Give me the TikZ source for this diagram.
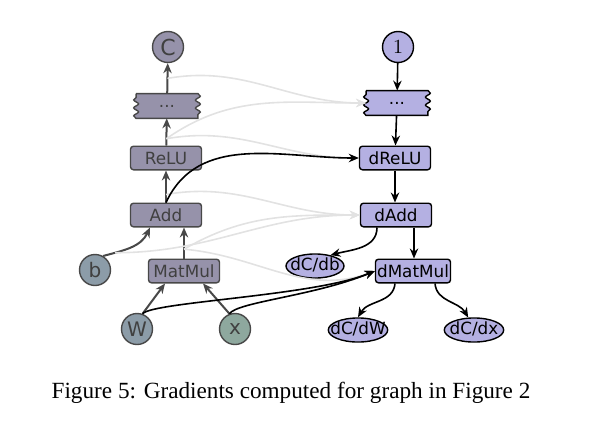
\documentclass[tikz,border=0pt]{standalone}
\usepackage{fontspec}
\setmainfont{Liberation Serif}
\newfontfamily\labelfont{DejaVu Sans}
\usetikzlibrary{shapes.geometric,arrows.meta,positioning,
                decorations.pathmorphing,backgrounds}
\definecolor{opfill}{RGB}{150,146,170}
\definecolor{varfill}{RGB}{140,156,168}
\definecolor{infill}{RGB}{142,168,158}
\definecolor{gradfill}{RGB}{180,176,226}
\definecolor{fwdline}{RGB}{72,72,72}
\definecolor{fwdtext}{RGB}{64,64,64}
\definecolor{tapline}{RGB}{226,226,226}
\tikzset{
  opbox/.style   = {rectangle, draw=#1, rounded corners=1.5pt,
                    line width=0.7pt, minimum width=35.5pt,
                    minimum height=11.8pt, inner sep=0.8pt,
                    font=\labelfont\fontsize{8.4}{9}\selectfont},
  fwdbox/.style  = {opbox=fwdline, fill=opfill, text=fwdtext},
  gradbox/.style = {opbox=black, fill=gradfill},
  tensor/.style  = {circle, draw=fwdline, fill=#1, line width=0.7pt,
                    minimum size=15.5pt, inner sep=0pt, text=fwdtext,
                    font=\labelfont\fontsize{10}{12}\selectfont},
  tensor/.default= varfill,
  gradout/.style = {ellipse, draw=black, fill=gradfill, line width=0.7pt,
                    inner sep=0pt, text height=6.5pt, text depth=2pt,
                    font=\labelfont\fontsize{8.4}{10}\selectfont},
  tapebox/.style = {minimum width=30.5pt, minimum height=12pt,
                    inner sep=0pt,
                    font=\labelfont\fontsize{8.4}{9}\selectfont},
  fwdarrow/.style= {-{Stealth[length=5pt,width=4.2pt]}, line width=1pt,
                    fwdline},
  bwdarrow/.style= {-{Stealth[length=5pt,width=4.2pt]}, line width=0.8pt,
                    black},
  taparrow/.style= {-{Stealth[length=5pt,width=4.2pt]}, line width=0.8pt,
                    tapline},
}
% wavy left and right sides of a "..." node
\newcommand{\wavyoutline}[3]{%
  \filldraw[draw=#2, fill=#3, line width=0.7pt,
            decoration={snake, amplitude=1.2pt, segment length=4pt}]
    (#1.north west) -- (#1.north east)
    decorate {-- (#1.south east)} -- (#1.south west)
    decorate {-- (#1.north west)} -- cycle;
}

\begin{document}
\begin{tikzpicture}[x=0.5pt, y=-0.5pt]
  \useasboundingbox (0,0) rectangle (603,428);

  %% ---- Forward graph ----
  \node[tensor=opfill, font=\labelfont\fontsize{11}{12}\selectfont]
        (C)      at (168,47)  {C};
  \node[tapebox, text=fwdtext]
        (ftape)  at (167,106) {...};
  \node[fwdbox]  (relu)   at (166,158) {ReLU};
  \node[fwdbox]  (add)    at (166,215) {Add};
  \node[tensor]  (b)      at (95,270)  {b};
  \node[fwdbox]  (matmul) at (184,271) {MatMul};
  \node[tensor]  (W)      at (137,329) {W};
  \node[tensor=infill] (x) at (235,329) {x};

  %% ---- Gradient graph ----
  \node[tensor=gradfill, draw=black, text=black]
        (one)    at (398,47)  {$1$};
  \node[tapebox] (btape)  at (397,103) {...};
  \node[gradbox] (drelu)  at (395,158) {dReLU};
  \node[gradbox] (dadd)   at (396,215) {dAdd};
  \node[gradout] (dCdb)   at (315,266) {\makebox[20.5pt]{dC/db}};
  \node[gradbox] (dmatmul) at (413,271) {dMatMul};
  \node[gradout] (dCdW)   at (358,330) {\makebox[21pt]{dC/dW}};
  \node[gradout] (dCdx)   at (474,330) {\makebox[21pt]{dC/dx}};

  \node[font=\fontsize{11.6}{13}\selectfont]
        (caption) at (291,393) {Figure 5: Gradients computed for graph in Figure 2};

  \begin{scope}[on background layer]
    \wavyoutline{ftape}{fwdline}{opfill}
    \wavyoutline{btape}{black}{gradfill}
  \end{scope}

  %% ---- Forward edges ----
  \draw[fwdarrow] (ftape) -- coordinate[pos=0.5] (tapC) (C);
  \draw[fwdarrow] (relu) -- coordinate[pos=0.25] (tapR) (ftape);
  \draw[fwdarrow] (add) -- coordinate[pos=0.25] (tapA) (relu);
  \draw[fwdarrow] (matmul.north) -- coordinate[pos=0.3] (tapM)
        (matmul.north |- add.south);
  \draw[fwdarrow] (b.60) to[out=15, in=-115] coordinate[pos=0.2] (tapB)
        ([xshift=-8pt]add.south);
  \draw[fwdarrow] (W.70) -- ([xshift=-9.5pt]matmul.south);
  \draw[fwdarrow] (x.110) -- ([xshift=9.5pt]matmul.south);

  %% ---- Forward values used by gradients (light) ----
  \draw[taparrow] (tapC) to[out=10, in=180] (btape.west);
  \draw[taparrow] (tapR) to[out=35, in=180] (btape.west);
  \draw[taparrow] (tapR) to[out=10, in=180] (drelu.west);
  \draw[taparrow] (tapA) to[out=10, in=180] (dadd.west);
  \draw[taparrow] (tapM) to[out=30, in=180] (dadd.west);
  \draw[taparrow] (tapB) to[out=0, in=180] (dadd.west);
  \draw[taparrow] (tapM) to[out=-5, in=200] (dmatmul.west);

  %% ---- Gradient edges ----
  \draw[bwdarrow] (one) -- (btape);
  \draw[bwdarrow] (btape) -- (drelu);
  \draw[bwdarrow] (drelu.south) -- (drelu.south |- dadd.north);
  \draw[bwdarrow] ([xshift=-9.5pt]dadd.south) to[out=-90, in=15] (dCdb.35);
  \draw[bwdarrow] ([xshift=9pt]dadd.south)
        -- ([xshift=9pt]dadd.south |- dmatmul.north);
  \draw[bwdarrow] ([xshift=-9pt]dmatmul.south) to[out=-95, in=60] (dCdW.north);
  \draw[bwdarrow] ([xshift=11pt]dmatmul.south) to[out=-85, in=120] (dCdx.115);

  %% ---- Forward outputs into gradient graph ----
  \draw[bwdarrow] (add.north) to[out=65, in=180] (drelu.west);
  \draw[bwdarrow] (W.70) .. controls +(10,-12) and +(-60,25) .. (dmatmul.west);
  \draw[bwdarrow] (x.110) .. controls +(8,-12) and +(-60,25) .. (dmatmul.west);

\end{tikzpicture}
\end{document}
